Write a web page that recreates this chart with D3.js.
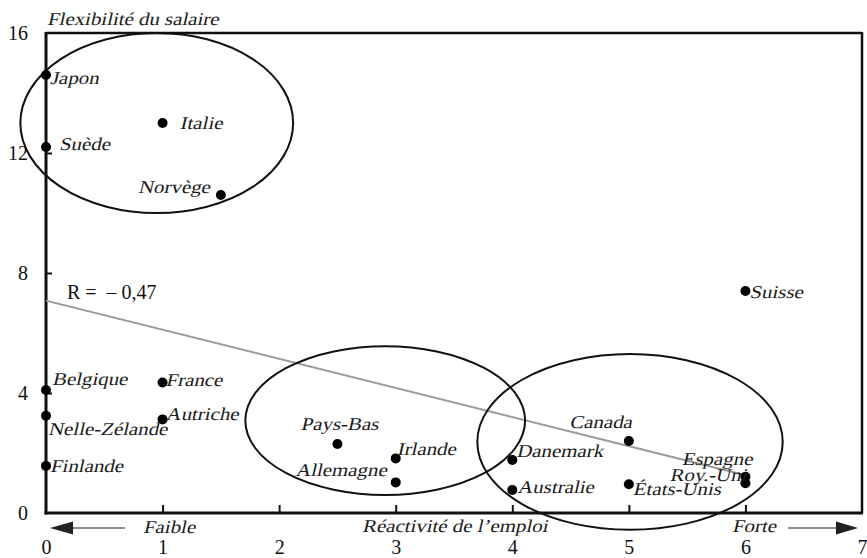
<!DOCTYPE html>
<html><head><meta charset="utf-8">
<script src="https://cdn.jsdelivr.net/npm/d3@7/dist/d3.min.js"></script>
<style>
body{margin:0;background:#fff;}
svg{display:block;}
</style></head>
<body>
<svg id="chart" width="867" height="558"></svg>
<script>
// ---- data ----
const countries = ["Japon","Italie","Suède","Norvège","Suisse","Belgique","France","Autriche","Nelle-Zélande","Finlande","Pays-Bas","Irlande","Allemagne","Danemark","Australie","Canada","États-Unis","Espagne","Roy.-Uni"];
const reactivite = [0,1,0,1.5,6,0,1,1,0,0,2.5,3,3,4,4,5,5,6,6];
const flexibilite = [14.6,13.0,12.2,10.6,7.4,4.1,4.35,3.12,3.24,1.57,2.3,1.82,1.02,1.77,0.77,2.4,0.96,1.21,0.99];
const xTickLabels = [0,1,2,3,4,5,6,7];
const yTickLabels = [0,4,8,12,16];
const regression = {intercept:7.08, slope:-0.97, xStart:0, xEnd:6, label:"R =  \u2013 0,47"};
const clusterCx = [0.95, 2.91, 5.01];
const clusterCy = [13.0, 3.08, 2.37];
const clusterRx = [1.17, 1.20, 1.31];
const clusterRy = [3.0, 2.48, 2.93];
const yTitle = "Flexibilité du salaire";
const xTitle = "Réactivité de l\u2019emploi";
const lowLabel = "Faible", highLabel = "Forte";

// ---- label placement (style) ----
const labelPos = {
  "Japon":[4,9,"start"], "Italie":[17,6,"start"], "Suède":[13,3,"start"], "Norvège":[-11,-2,"end"],
  "Suisse":[4,7,"start"], "Belgique":[6,-5,"start"], "France":[3,3,"start"], "Autriche":[3,1,"start"],
  "Nelle-Zélande":[2,19,"start"], "Finlande":[4,6,"start"], "Pays-Bas":[2,-14,"middle"],
  "Irlande":[1,-3,"start"], "Allemagne":[-9,-6,"end"], "Danemark":[4,-3,"start"],
  "Australie":[5,3,"start"], "Canada":[3,-13,"end"], "États-Unis":[4,11,"start"],
  "Espagne":[7,-12,"end"], "Roy.-Uni":[1,-2,"end"]
};

const FONT = "'Liberation Serif', Tinos, 'Times New Roman', serif";
const svg = d3.select("#chart").attr("font-family", FONT);
const x = d3.scaleLinear().domain([0,7]).range([46,862]);
const y = d3.scaleLinear().domain([0,16]).range([513,33]);
const SX = 1.16, IT = 18, SKEW = -13;

// synthetic italic (upright serif face slanted), since no italic serif face is installed
function itext(g, px, py, str, anchor, size){
  return g.append("text")
    .attr("transform", `translate(${px},${py}) skewX(${SKEW}) scale(${SX},1)`)
    .attr("text-anchor", anchor||"start")
    .attr("fill","#1a1a1a")
    .style("font-family", FONT)
    .style("font-size",(size||IT)+"px").text(str);
}

// ticks (inward)
svg.append("g").attr("transform",`translate(0,${y(0)})`)
  .call(d3.axisBottom(x).tickValues([1,2,3,4,5,6]).tickSize(-8).tickFormat(""))
  .call(g=>g.select(".domain").remove())
  .call(g=>g.selectAll("line").attr("stroke","#111").attr("stroke-width",2));
svg.append("g").attr("transform",`translate(${x(0)},0)`)
  .call(d3.axisLeft(y).tickValues([4,8,12]).tickSize(-6).tickFormat(""))
  .call(g=>g.select(".domain").remove())
  .call(g=>g.selectAll("line").attr("stroke","#111").attr("stroke-width",2));

// tick labels
svg.append("g").attr("transform",`translate(0,${y(0)})`)
  .call(d3.axisBottom(x).tickValues(xTickLabels).tickSize(0).tickPadding(27).tickFormat(d3.format("d")))
  .call(g=>g.select(".domain").remove())
  .call(g=>g.selectAll("text").attr("fill","#111").style("font-size","20px").style("font-family",FONT));
svg.append("g").attr("transform",`translate(${x(0)},0)`)
  .call(d3.axisLeft(y).tickValues(yTickLabels).tickSize(0).tickPadding(18).tickFormat(d3.format("d")))
  .call(g=>g.select(".domain").remove())
  .call(g=>g.selectAll("text").attr("fill","#111").style("font-size","20px").style("font-family",FONT));

// frame
svg.append("line").attr("x1",x(0)).attr("x2",x(7)).attr("y1",y(16)).attr("y2",y(16)).attr("stroke","#111").attr("stroke-width",2.5);
svg.append("line").attr("x1",x(7)).attr("x2",x(7)).attr("y1",y(16)-1).attr("y2",y(0)).attr("stroke","#111").attr("stroke-width",2.5);
svg.append("line").attr("x1",x(0)).attr("x2",x(0)).attr("y1",y(16)-1).attr("y2",y(0)+1.5).attr("stroke","#111").attr("stroke-width",3);
svg.append("line").attr("x1",x(0)-1.5).attr("x2",x(7)+1).attr("y1",y(0)).attr("y2",y(0)).attr("stroke","#111").attr("stroke-width",3);

// regression line
svg.append("line")
  .attr("x1",x(regression.xStart)).attr("y1",y(regression.intercept+regression.slope*regression.xStart))
  .attr("x2",x(regression.xEnd)).attr("y2",y(regression.intercept+regression.slope*regression.xEnd))
  .attr("stroke","#999").attr("stroke-width",2);
svg.append("text").attr("x",x(0)+21).attr("y",y(regression.intercept)-2).attr("fill","#111")
  .style("font-family",FONT).style("font-size","20px").attr("xml:space","preserve").style("white-space","pre").text(regression.label);

// ellipses
svg.selectAll("ellipse.cl").data(clusterCx).join("ellipse").attr("class","cl")
  .attr("cx",(d)=>x(d)).attr("cy",(d,i)=>y(clusterCy[i]))
  .attr("rx",(d,i)=>x(clusterRx[i])-x(0)).attr("ry",(d,i)=>y(0)-y(clusterRy[i]))
  .attr("fill","none").attr("stroke","#111").attr("stroke-width",2);

// points
svg.selectAll("circle.pt").data(countries).join("circle").attr("class","pt")
  .attr("cx",(d,i)=>x(reactivite[i])).attr("cy",(d,i)=>y(flexibilite[i])).attr("r",5).attr("fill","#000");
countries.forEach((c,i)=>{
  const p = labelPos[c];
  itext(svg, x(reactivite[i])+p[0], y(flexibilite[i])+p[1], c, p[2]);
});

// titles
itext(svg, x(0)+1, 25, yTitle, "start");
itext(svg, 362, 532, xTitle, "start");
itext(svg, 143, 533, lowLabel, "start");
itext(svg, 732, 532, highLabel, "start");

// arrows
const ay = 528;
svg.append("line").attr("x1",x(0)+26).attr("x2",x(0)+79).attr("y1",ay).attr("y2",ay).attr("stroke","#222").attr("stroke-width",1.2);
svg.append("path").attr("d",`M${x(0)+4},${ay} L${x(0)+27},${ay-6.5} L${x(0)+27},${ay+6.5} Z`).attr("fill","#222");
svg.append("line").attr("x1",788).attr("x2",840).attr("y1",ay).attr("y2",ay).attr("stroke","#222").attr("stroke-width",1.2);
svg.append("path").attr("d",`M${x(7)-4},${ay} L${x(7)-26},${ay-6.5} L${x(7)-26},${ay+6.5} Z`).attr("fill","#222");
</script>
</body></html>
